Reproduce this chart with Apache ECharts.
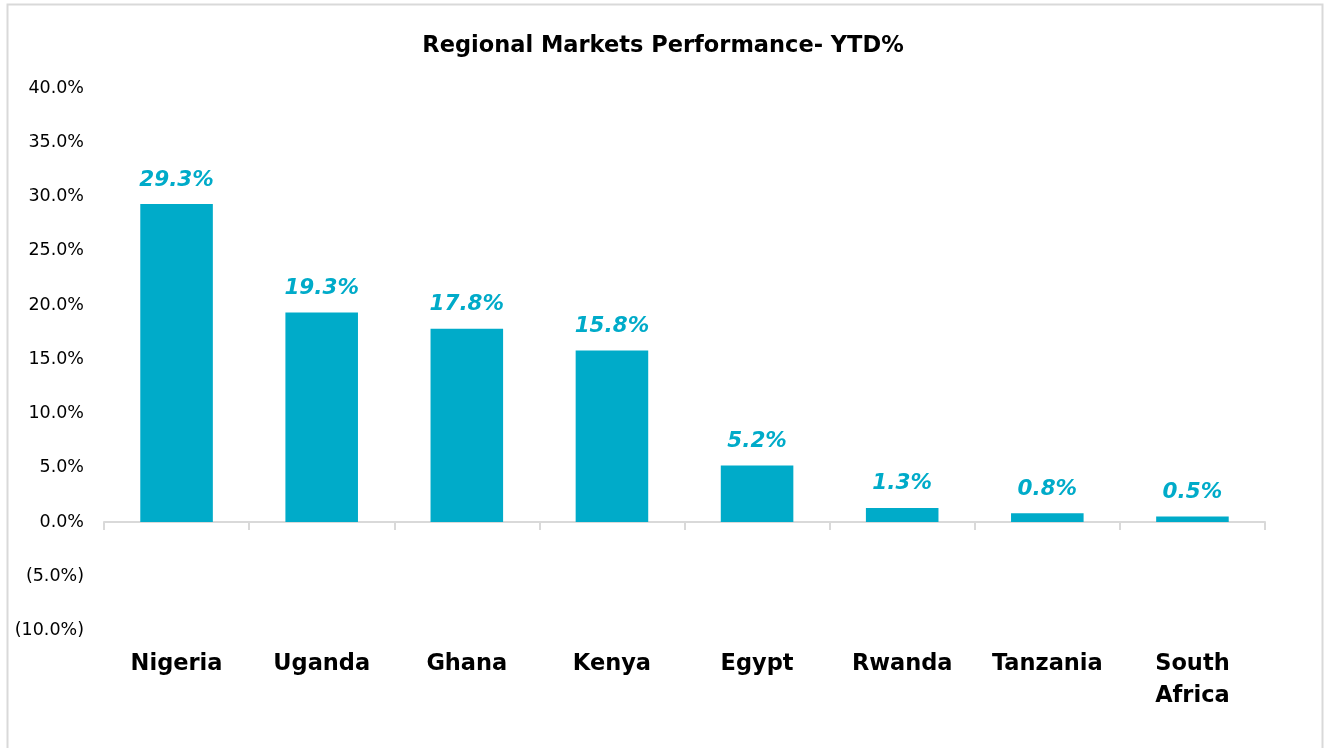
<!DOCTYPE html>
<html>
<head>
<meta charset="utf-8">
<script src="https://cdn.jsdelivr.net/npm/echarts@6/dist/echarts.min.js"></script>
<style>
  html, body { margin: 0; padding: 0; background: #fff; }
  #chart { width: 1326px; height: 748px; }
</style>
</head>
<body>
<div id="chart"></div>
<script>
  // 数据
  var countries = ['Nigeria', 'Uganda', 'Ghana', 'Kenya', 'Egypt', 'Rwanda', 'Tanzania', 'South\nAfrica']
  var ytdValues = [29.3, 19.3, 17.8, 15.8, 5.2, 1.3, 0.8, 0.5]
  var yTicks = [-10, 40, 5]   // min, max, interval

  var fontName = '"DejaVu Sans", sans-serif'
  var barColor = '#00abc9'

  function pct (v) {
    var s = Math.abs(v).toFixed(1) + '%'
    return v < 0 ? '(' + s + ')' : s
  }

  var chart = echarts.init(document.getElementById('chart'))
  chart.setOption({
    animation: false,
    textStyle: { fontFamily: fontName },
    // 外框
    graphic: [{
      type: 'rect',
      shape: { x: 7.5, y: 4.5, width: 1315, height: 760 },
      style: { fill: 'none', stroke: '#d9d9d9', lineWidth: 2 },
      silent: true
    }],
    title: {
      text: 'Regional Markets Performance- YTD%',
      left: 'center',
      top: 30,
      textStyle: { fontSize: 22.5, fontWeight: 'bold', color: '#000', fontFamily: fontName }
    },
    grid: { left: 104, right: 61, top: 88, bottom: 117.5 },
    xAxis: [
      {
        // 零轴线 + 刻度
        type: 'category',
        data: countries,
        axisLine: { onZero: true, lineStyle: { color: '#d9d9d9', width: 2 } },
        axisTick: { show: true, length: 8, lineStyle: { color: '#d9d9d9', width: 2 } },
        axisLabel: { show: false }
      },
      {
        // 底部类目标签
        type: 'category',
        data: countries,
        position: 'bottom',
        axisLine: { show: false, onZero: false },
        axisTick: { show: false },
        axisLabel: {
          show: true, margin: 18, color: '#000', fontSize: 22.5, fontWeight: 'bold',
          lineHeight: 32, fontFamily: fontName
        }
      }
    ],
    yAxis: {
      type: 'value',
      min: yTicks[0],
      max: yTicks[1],
      interval: yTicks[2],
      axisLine: { show: false },
      axisTick: { show: false },
      splitLine: { show: false },
      axisLabel: {
        color: '#000', fontSize: 17.5, margin: 20, fontFamily: fontName,
        formatter: pct
      }
    },
    series: [{
      name: 'YTD',
      type: 'bar',
      xAxisIndex: 0,
      data: ytdValues,
      barWidth: '50%',
      itemStyle: { color: barColor },
      label: {
        show: true,
        position: 'top',
        distance: 13,
        color: barColor,
        fontSize: 21.5,
        fontWeight: 'bold',
        fontStyle: 'italic',
        fontFamily: fontName,
        formatter: function (p) { return pct(p.value) }
      }
    }]
  })
</script>
</body>
</html>
